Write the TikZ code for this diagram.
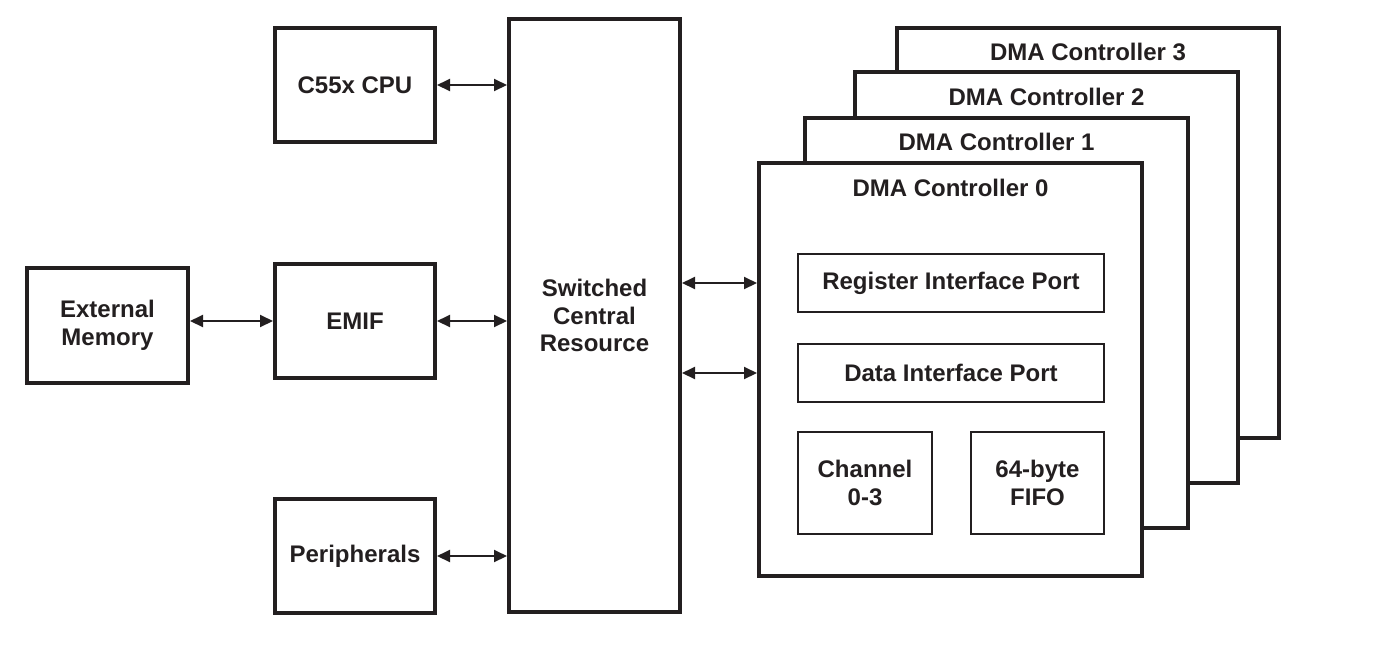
\documentclass[tikz,border=0pt]{standalone}
\usepackage{fontspec}
\setmainfont{Liberation Sans}
\usetikzlibrary{arrows.meta,calc}
\definecolor{ink}{HTML}{231F20}
\begin{document}
\begin{tikzpicture}[x=1pt,y=-1pt,
  txt/.style={font=\fontsize{24}{27.5}\selectfont\bfseries, text=ink, align=center},
  bigbox/.style={draw=ink, line width=4pt, fill=white, rectangle, inner sep=0pt, txt},
  smallbox/.style={draw=ink, line width=2pt, fill=white, rectangle, inner sep=0pt, txt},
  conn/.style={draw=ink, line width=2pt, {Triangle[length=13pt,width=12pt]}-{Triangle[length=13pt,width=12pt]}}]
\useasboundingbox (0,0) rectangle (1387,657);
\node[bigbox, minimum width=160pt, minimum height=114pt] (cpu) at (355,85) {C55x CPU};
\node[bigbox, minimum width=160pt, minimum height=114pt] (emif) at (355,321) {EMIF};
\node[bigbox, minimum width=160pt, minimum height=114pt] (per) at (355,556) {Peripherals};
\node[bigbox, minimum width=161pt, minimum height=115pt] (ext) at (107.5,325.5) {External\\Memory};
\node[bigbox, minimum width=171pt, minimum height=593pt] (scr) at (594.5,315.5) {Switched\\Central\\Resource};
% DMA stack
\node[bigbox, minimum width=382pt, minimum height=410pt] (d3) at (1088,233) {};
\node[txt] (t3) at ($(d3.north)+(0,26)$) {DMA Controller 3};
\node[bigbox, minimum width=383pt, minimum height=411pt] (d2) at (1046.5,277.5) {};
\node[txt] (t2) at ($(d2.north)+(0,27)$) {DMA Controller 2};
\node[bigbox, minimum width=383pt, minimum height=410pt] (d1) at (996.5,323) {};
\node[txt] (t1) at ($(d1.north)+(0,26)$) {DMA Controller 1};
\node[bigbox, minimum width=383pt, minimum height=413pt] (d0) at (950.5,369.5) {};
\node[txt] (t0) at ($(d0.north)+(0,27)$) {DMA Controller 0};
\node[smallbox, minimum width=306pt, minimum height=58pt] (rip) at (951,283) {Register Interface Port};
\node[smallbox, minimum width=306pt, minimum height=58pt] (dip) at (951,373) {Data Interface Port};
\node[smallbox, minimum width=134pt, minimum height=102pt] (ch) at (865,483) {Channel\\0-3};
\node[smallbox, minimum width=133pt, minimum height=102pt] (fifo) at (1037.5,483) {64-byte\\FIFO};
% connectors
\draw[conn] (cpu.east) -- (cpu.east -| scr.west);
\draw[conn] (emif.east) -- (emif.east -| scr.west);
\draw[conn] (per.east) -- (per.east -| scr.west);
\draw[conn] (emif.west -| ext.east) -- (emif.west);
\draw[conn] (rip.west -| scr.east) -- (rip.west -| d0.west);
\draw[conn] (dip.west -| scr.east) -- (dip.west -| d0.west);
\end{tikzpicture}
\end{document}
